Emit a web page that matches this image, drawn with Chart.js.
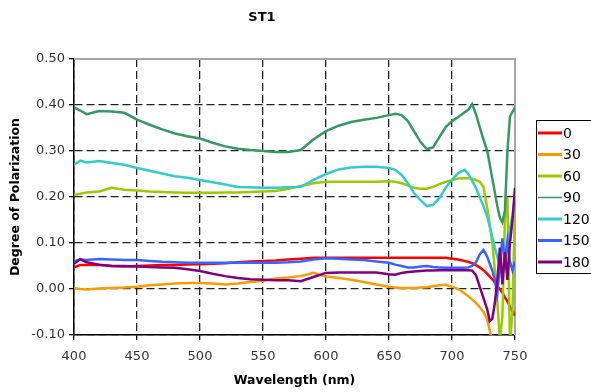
<!DOCTYPE html>
<html><head><meta charset="utf-8">
<script src="https://cdn.jsdelivr.net/npm/chart.js@4/dist/chart.umd.min.js"></script>
<style>html,body{margin:0;padding:0;background:#fff}</style>
</head><body>
<canvas id="c" width="591" height="392"></canvas>
<script>
const wavelengths = [400,405,410,420,430,440,450,460,470,480,490,500,510,520,530,540,550,560,570,580,590,600,610,620,630,640,650,655,660,665,670,675,680,685,690,695,700,705,710,713,716,719,722,725,728,730,732,734,736,738,740,742,744,746,748,750];

const deg0 = [.047,.052,.052,
 .052,.050,.049,.050,.051,.052,.052,.053,.054,.055,.056,.058,.060,.061,.062,.064,.066,.068,.068,.068,.068,.068,.068,.068,
 .068,.068,.068,.068,.068,.068,.068,.068,.068,.066,
 .064,.061,
 .059,.056,.052,.047,.041,.033,
 .027,.021,.014,.006,.000,-.008,-.018,-.027,-.038,-.048,-.058];
const deg30 = [.002,.000,-.001,
 .001,.002,.003,.005,.008,.010,.012,.013,.013,.012,.010,.012,.015,.018,.023,.025,.028,.035,.027,.024,.020,.015,.010,.005,
 .003,.002,.002,.002,.003,.004,.006,.008,.009,.005,
 .000,-.010,
 -.016,-.023,-.030,-.039,-.050,-.067,
 -.090,-.115,-.14,-.16,-.17,-.17,-.17,-.17,-.17,-.17,-.17];
const deg60 = [.205,.207,.210,
 .212,.220,.216,.214,.212,.211,.210,.209,.209,.209,.210,.210,.211,.212,.213,.218,.224,.230,.233,.233,.233,.233,.233,.234,
 .233,.230,.225,.220,.218,.218,.222,.228,.233,.237,
 .240,.241,
 .241,.240,.237,.233,.222,.175,
 .14,.10,.04,-.03,-.11,-.06,.15,.20,-.12,-.05,.19];
const deg90 = [.395,.388,.380,
 .387,.386,.383,.368,.357,.347,.338,.332,.327,.318,.310,.305,.302,.300,.298,.298,.302,.325,.343,.355,.363,.368,.372,.378,
 .381,.378,.365,.342,.320,.304,.308,.330,.352,.365,
 .374,.384,
 .390,.402,.380,.352,.325,.300,
 .270,.240,.210,.180,.155,.145,.170,.300,.375,.385,.395];
const deg120 = [.270,.279,.275,
 .278,.274,.270,.263,.257,.251,.245,.242,.237,.232,.227,.222,.221,.220,.220,.221,.222,.237,.250,.260,.264,.266,.266,.263,
 .259,.248,.230,.208,.193,.180,.183,.198,.220,.238,
 .252,.259,
 .250,.235,.220,.200,.180,.157,
 .135,.113,.090,.070,.050,.030,.060,.100,.130,.160,.200];
const deg150 = [.060,.064,.063,
 .065,.064,.063,.063,.061,.059,.058,.057,.057,.057,.057,.057,.057,.057,.057,.058,.060,.064,.067,.066,.064,.063,.060,.057,
 .053,.050,.047,.047,.049,.050,.048,.047,.046,.046,
 .046,.046,
 .047,.050,.058,.075,.085,.070,
 .055,.040,.020,-.010,.050,.110,.060,.105,.060,.040,.060];
const deg180 = [.055,.065,.058,
 .053,.050,.050,.049,.048,.047,.046,.043,.039,.033,.028,.024,.021,.020,.019,.019,.017,.026,.035,.036,.036,.036,.036,.032,
 .031,.035,.037,.038,.039,.040,.040,.041,.041,.041,
 .041,.041,
 .041,.040,.030,.005,-.020,-.045,
 -.070,-.065,-.030,.020,.090,.010,.080,.020,.100,.150,.220];

const seriesNames = ['0','30','60','90','120','150','180'];
const seriesValues = [deg0, deg30, deg60, deg90, deg120, deg150, deg180];
const seriesColors = ['#FF0000','#FF9900','#99CC00','#339966','#33CCCC','#3366FF','#800080'];
const xRange = [400, 750, 50];
const yRange = [-0.1, 0.5, 0.1];
const titleText = 'ST1';
const xTitle = 'Wavelength (nm)';
const yTitle = 'Degree of Polarization';

const FONT = 'DejaVu Sans';

const datasets = seriesValues.map((vals, i) => ({
  label: seriesNames[i],
  data: vals.map((v, j) => ({x: wavelengths[j], y: v})),
  borderColor: seriesColors[i],
  backgroundColor: seriesColors[i],
  borderWidth: 2.5,
  pointRadius: 0,
  tension: 0,
  fill: false,
  order: seriesValues.length - 1 - i
}));

const decor = {
  id: 'decor',
  beforeDatasetsDraw(chart) {
    const {ctx, chartArea: a} = chart;
    ctx.save();
    ctx.strokeStyle = '#a6a6a6';
    ctx.lineWidth = 2;
    ctx.beginPath();
    ctx.moveTo(a.left, a.top);
    ctx.lineTo(a.right, a.top);
    ctx.lineTo(a.right, a.bottom);
    ctx.stroke();
    ctx.restore();
  },
  afterDraw(chart) {
    const {ctx} = chart;
    ctx.save();
    ctx.fillStyle = '#000';
    ctx.font = 'bold 13px "' + FONT + '"';
    ctx.textAlign = 'center';
    ctx.textBaseline = 'middle';
    ctx.fillText(titleText, 262, 18);
    const lx = 536, ly = 120, lh = 153;
    ctx.strokeStyle = '#000';
    ctx.lineWidth = 1;
    ctx.strokeRect(lx + 0.5, ly + 0.5, 80, lh);
    ctx.font = '14px "' + FONT + '"';
    ctx.textAlign = 'left';
    seriesNames.forEach((name, i) => {
      const y = 133 + i * 21.5;
      ctx.strokeStyle = seriesColors[i];
      ctx.lineWidth = name === '90' ? 1.5 : 3;
      ctx.beginPath();
      ctx.moveTo(538, y);
      ctx.lineTo(562, y);
      ctx.stroke();
      ctx.fillStyle = '#000';
      ctx.fillText(name, 563, y + 1);
    });
    ctx.restore();
  }
};

const gridOpts = {
  display: true,
  drawOnChartArea: true,
  drawTicks: true,
  color: '#222',
  lineWidth: 1.3,
  tickLength: 5,
  tickColor: '#000',
  tickWidth: 1.3,
  borderDash: [8, 4]
};

new Chart(document.getElementById('c'), {
  type: 'line',
  data: { datasets },
  plugins: [decor],
  options: {
    responsive: false,
    animation: false,
    events: [],
    layout: { padding: { left: 0, top: 59, right: 76, bottom: 0 } },
    plugins: { legend: { display: false }, title: { display: false }, tooltip: { enabled: false } },
    scales: {
      x: {
        type: 'linear',
        min: xRange[0], max: xRange[1],
        afterFit(s) { s.height = 57; },
        ticks: { stepSize: xRange[2], font: { family: FONT, size: 13 }, color: '#333', padding: 9, maxRotation: 0, autoSkip: false },
        grid: gridOpts,
        border: { display: true, color: '#000', width: 1.5, dash: [8, 4] },
        title: { display: true, text: xTitle, color: '#000', font: { family: FONT, size: 12.5, weight: 'bold' }, padding: { top: 0, bottom: 4 } }
      },
      y: {
        type: 'linear',
        min: yRange[0], max: yRange[1],
        afterFit(s) { s.width = 74; },
        ticks: { stepSize: yRange[2], font: { family: FONT, size: 13 }, color: '#333', padding: 4, autoSkip: false,
                 callback: v => (Math.abs(v) < 1e-9 ? 0 : Number(v)).toFixed(2) },
        grid: gridOpts,
        border: { display: true, color: '#000', width: 1.5, dash: [8, 4] },
        title: { display: true, text: yTitle, color: '#000', font: { family: FONT, size: 12.5, weight: 'bold' }, padding: { top: 8, bottom: 0 } }
      }
    }
  }
});
</script>
</body></html>
